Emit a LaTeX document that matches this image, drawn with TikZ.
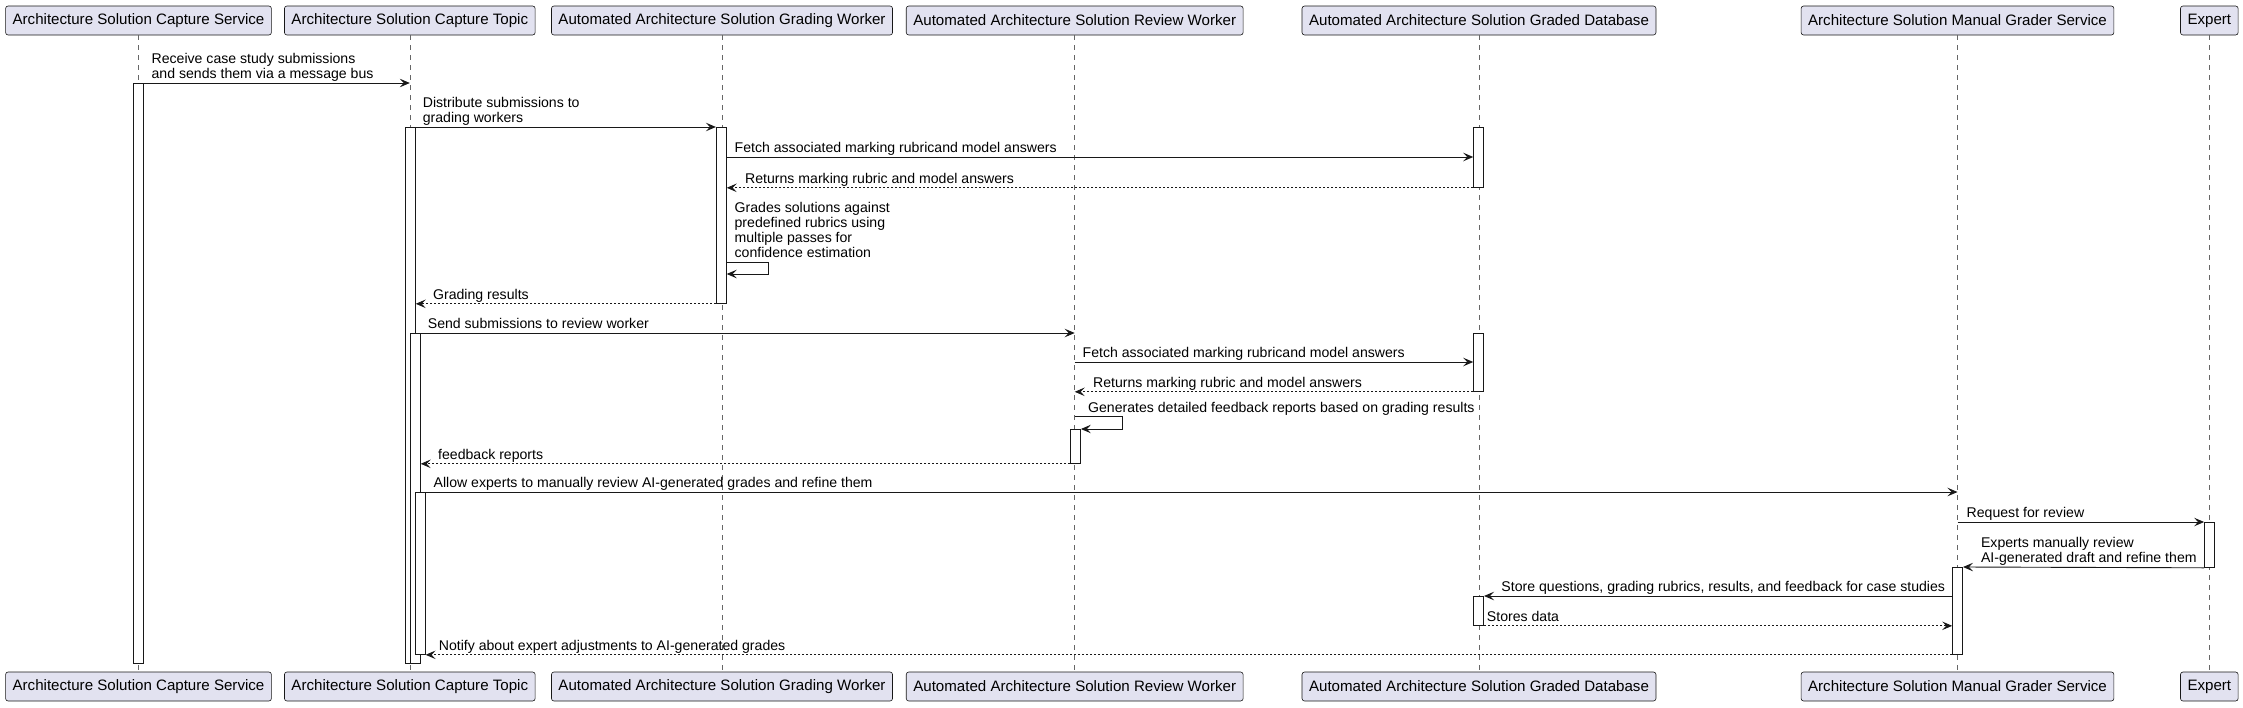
\documentclass[tikz,border=0pt]{standalone}
\usepackage{fontspec}
\setmainfont{Liberation Sans}
\usetikzlibrary{arrows.meta, positioning, calc}
\definecolor{partfill}{RGB}{226,226,240}
\definecolor{partline}{RGB}{24,24,24}
\tikzset{
    part/.style={draw=partline, fill=partfill, rounded corners=2.5pt, line width=0.6pt,
      minimum height=29pt, inner xsep=7pt, font=\fontsize{15.1}{17}\selectfont},
    lifeline/.style={draw=black!60, line width=0.5pt, dash pattern=on 5pt off 5pt},
    act/.style={draw=partline, fill=white, line width=0.8pt, minimum width=10pt,
      inner sep=0pt, anchor=north},
    msg/.style={draw=partline, line width=0.9pt, -{Stealth[length=10pt, width=8.5pt, inset=4pt]}},
    ret/.style={msg, dash pattern=on 2pt off 2pt},
    lbl/.style={anchor=south west, inner xsep=0pt, inner ysep=1pt, align=left,
      text depth=3pt, font=\fontsize{14.1}{15}\selectfont},
}
\begin{document}
\begin{tikzpicture}[x=1pt, y=-1pt]
    \useasboundingbox (0,0) rectangle (2243,707);

    % participants, top and bottom, with their lifelines
    \foreach \n/\x/\t in {cs/138.5/Architecture Solution Capture Service,
                          ct/409.8/Architecture Solution Capture Topic,
                          gw/722/Automated Architecture Solution Grading Worker,
                          rw/1074.7/Automated Architecture Solution Review Worker,
                          db/1479/Automated Architecture Solution Graded Database,
                          mg/1957.5/Architecture Solution Manual Grader Service,
                          ex/2209.3/Expert} {
      \node[part] (\n) at (\x,20.5) {\t};
      \node[part] (\n-b) at (\x,686.5) {\t};
      \draw[lifeline] (\n) -- (\n-b);
    }

    % activations
    \node[act, minimum height=580pt] (a1) at (138.5,83) {};
    \node[act, minimum height=536pt] (a2) at (410.3,127) {};
    \node[act, minimum height=176pt] (a3) at (721.3,127) {};
    \node[act, minimum height=60pt] (a4) at (1478.6,127) {};
    \node[act, minimum height=330pt] (a5) at (415.3,333) {};
    \node[act, minimum height=58pt] (a6) at (1478.6,333) {};
    \node[act, minimum height=34pt] (a7) at (1075.5,429) {};
    \node[act, minimum height=162pt] (a8) at (420.2,492) {};
    \node[act, minimum height=45pt] (a9) at (2209.5,522) {};
    \node[act, minimum height=87pt] (a10) at (1957.6,567) {};
    \node[act, minimum height=29pt] (a11) at (1478.6,596) {};

    % message rows that have no activation edge
    \coordinate (r3) at (0,157);
    \coordinate (r5a) at (0,262);
    \coordinate (r5b) at (0,274);
    \coordinate (r8) at (0,362);
    \coordinate (r10) at (0,416.7);

    % messages
    \draw[msg] (a1.north east) -- (ct |- a1.north)
      node[lbl, at start, xshift=7.3pt] {Receive case study submissions\\and sends them via a message bus};
    \draw[msg] (a2.north east) -- (a3.north west)
      node[lbl, at start, xshift=6.7pt] {Distribute submissions to\\grading workers};
    \draw[msg] (a3.east |- r3) -- (a4.west |- r3)
      node[lbl, at start, xshift=7.5pt] {Fetch associated marking rubricand model answers};
    \draw[ret] (a4.south west) -- (a3.east |- a4.south)
      node[lbl, at end, xshift=18pt] {Returns marking rubric and model answers};
    \draw[msg] (a3.east |- r5a) -- ++(41.5,0)
      node[lbl, at start, xshift=7.5pt] {Grades solutions against\\predefined rubrics using\\multiple passes for\\confidence estimation}
      |- (a3.east |- r5b);
    \draw[ret] (a3.south west) -- (a2.east |- a3.south)
      node[lbl, at end, xshift=17pt] {Grading results};

    \draw[msg] (a5.north east) -- (rw |- a5.north)
      node[lbl, at start, xshift=6.7pt] {Send submissions to review worker};
    \draw[msg] (rw |- r8) -- (a6.west |- r8)
      node[lbl, at start, xshift=7.5pt] {Fetch associated marking rubricand model answers};
    \draw[ret] (a6.south west) -- (rw |- a6.south)
      node[lbl, at end, xshift=18pt] {Returns marking rubric and model answers};
    \draw[msg] (rw |- r10) -- ++(48,0)
      node[lbl, at start, xshift=13pt] {Generates detailed feedback reports based on grading results}
      |- (a7.north east);
    \draw[ret] (a7.south west) -- (a5.east |- a7.south)
      node[lbl, at end, xshift=17pt] {feedback reports};

    \draw[msg] (a8.north east) -- (mg |- a8.north)
      node[lbl, at start, xshift=7.6pt] {Allow experts to manually review AI-generated grades and refine them};
    \draw[msg] (mg |- a9.north) -- (a9.north west)
      node[lbl, at start, xshift=8.7pt] {Request for review};
    \draw[msg] (a9.south west) -- (a10.north east)
      node[lbl, at end, xshift=17.6pt] {Experts manually review\\AI-generated draft and refine them};
    \draw[msg] (a10.west |- a11.north) -- (a11.north east)
      node[lbl, at end, xshift=17pt] {Store questions, grading rubrics, results, and feedback for case studies};
    \draw[ret] (a11.south east) -- (a10.west |- a11.south)
      node[lbl, at start, xshift=2.5pt] {Stores data};
    \draw[ret] (a10.south west) -- (a8.south east)
      node[lbl, at end, xshift=12.8pt] {Notify about expert adjustments to AI-generated grades};
\end{tikzpicture}
\end{document}
